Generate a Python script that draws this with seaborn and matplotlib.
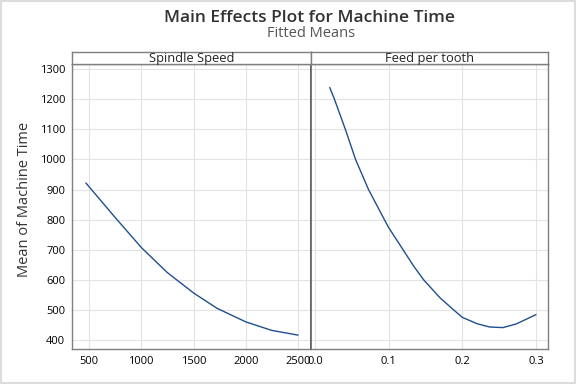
import numpy as np
import pandas as pd
import matplotlib
matplotlib.use("Agg")
import matplotlib.pyplot as plt
import seaborn as sns
from matplotlib.patches import Rectangle

# Fitted means
spindle_speed = [470, 739, 1000, 1248, 1500, 1725, 2000, 2245, 2500]
spindle_mean = [922, 812, 708, 625, 557, 506, 461, 433, 417]

feed_tooth = [0.020, 0.0264, 0.0412, 0.0551, 0.0727, 0.0943, 0.100, 0.1197,
              0.1337, 0.1477, 0.1701, 0.1886, 0.200, 0.220, 0.237, 0.2551,
              0.2732, 0.300]
feed_mean = [1239, 1200, 1100, 1000, 900, 800, 774, 700,
             647, 600, 540, 500, 476, 455, 444, 442,
             454, 485]

panel_titles = ["Spindle Speed", "Feed per tooth"]
y_ticks = [400, 500, 600, 700, 800, 900, 1000, 1100, 1200, 1300]
x_ticks_left = [500, 1000, 1500, 2000, 2500]
x_ticks_right = [0.0, 0.1, 0.2, 0.3]
x_ticklabels_right = ["0.0", "0.1", "0.2", "0.3"]

df_speed = pd.DataFrame({"x": spindle_speed, "y": spindle_mean})
df_feed = pd.DataFrame({"x": feed_tooth, "y": feed_mean})

sns.set_style("white")
plt.rcParams["font.family"] = ["Open Sans", "DejaVu Sans"]

line_color = "#1f4f8f"
frame_color = "#7f7f7f"
grid_color = "#e3e3e3"

fig = plt.figure(figsize=(5.76, 3.84), dpi=100)
fig.patches.append(Rectangle((0, 0), 1, 1, transform=fig.transFigure,
                             fill=False, edgecolor="#dcdcdc", linewidth=3))

bottom, height = 0.0904, 0.743
ax1 = fig.add_axes([0.1255, bottom, 0.4137, height])
ax2 = fig.add_axes([0.5392, bottom, 0.4130, height], sharey=ax1)

sns.lineplot(data=df_speed, x="x", y="y", ax=ax1, color=line_color, linewidth=1)
sns.lineplot(data=df_feed, x="x", y="y", ax=ax2, color=line_color, linewidth=1)

ax1.set_xlim(340, 2620)
ax2.set_xlim(-0.006, 0.317)
ax1.set_ylim(370, 1317)
ax1.set_xticks(x_ticks_left)
ax2.set_xticks(x_ticks_right)
ax2.set_xticklabels(x_ticklabels_right)
ax1.set_yticks(y_ticks)

for ax in (ax1, ax2):
    ax.set_xlabel("")
    ax.set_ylabel("")
    ax.grid(True, color=grid_color, linewidth=0.8)
    ax.set_axisbelow(True)
    for s in ax.spines.values():
        s.set_color(frame_color)
        s.set_linewidth(1)
    ax.tick_params(axis="both", labelsize=8, colors="#000000",
                   length=3, color=frame_color, pad=2)

ax2.tick_params(axis="y", left=False, labelleft=False)
ax1.spines["right"].set_linewidth(1.2)
ax1.spines["right"].set_color("#606060")
ax2.spines["left"].set_linewidth(1.2)
ax2.spines["left"].set_color("#606060")

# strip headers above each panel
strip_h = (64 - 51.7) / 384
for ax, title in zip((ax1, ax2), panel_titles):
    pos = ax.get_position()
    sax = fig.add_axes([pos.x0, pos.y1, pos.width, strip_h])
    sax.set_xticks([])
    sax.set_yticks([])
    for s in sax.spines.values():
        s.set_color(frame_color)
        s.set_linewidth(1)
    sax.text(0.5, 0.45, title, ha="center", va="center", fontsize=9.3,
             fontweight="medium", color="#222222", transform=sax.transAxes)

fig.text(0.538, 0.952, "Main Effects Plot for Machine Time", ha="center",
         va="center", fontsize=12.5, fontweight="semibold", color="#333333")
fig.text(0.54, 0.913, "Fitted Means", ha="center", va="center",
         fontsize=10.5, color="#555555")
fig.text(0.043, 0.48, "Mean of Machine Time", rotation=90, ha="center",
         va="center", fontsize=10.5, color="#333333")

fig.savefig("out.png", dpi=100)
